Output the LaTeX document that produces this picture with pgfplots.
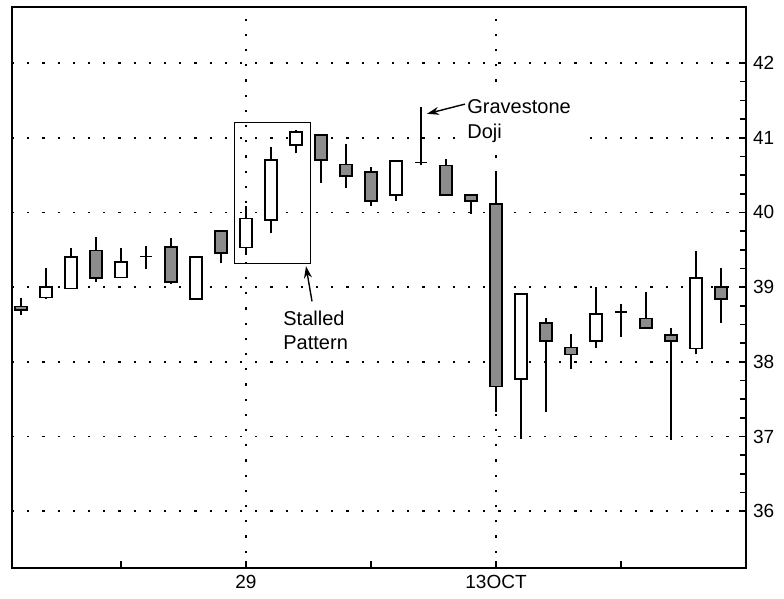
\documentclass[border=0pt]{standalone}
\usepackage{fontspec}
\setmainfont{Liberation Sans}
\usepackage{pgfplots}
\usepackage{pgfplotstable}
\pgfplotsset{compat=1.18}
\usetikzlibrary{arrows.meta}

% wicks: day, low, high
\pgfplotstableread{
x  lo     hi
0  38.63  38.85
1  38.84  39.26
2  38.98  39.53
3  39.07  39.67
4  39.13  39.53
5  39.24  39.55
6  39.04  39.66
7  38.84  39.40
8  39.32  39.75
9  39.43  40.08
10 39.72  40.88
11 40.79  41.10
12 40.40  41.04
13 40.33  40.92
14 40.09  40.61
15 40.15  40.69
16 40.63  41.41
17 40.23  40.72
18 39.98  40.23
19 37.33  40.54
20 36.97  38.91
21 37.33  38.58
22 37.90  38.37
23 38.18  39.00
24 38.33  38.78
25 38.45  38.93
26 36.95  38.45
27 38.10  39.48
28 38.52  39.26
}\wicks

\pgfplotsset{
  candlehollow/.style={black, line width=0.8pt, fill=white, mark=none, forget plot},
  candleshaded/.style={black, line width=0.8pt, fill=black!45, mark=none, forget plot},
}

\begin{document}
\begin{tikzpicture}
\begin{axis}[
  name=ax,
  scale only axis,
  width=367pt, height=280.5pt,
  xmin=-0.36, xmax=29.0,
  ymin=35.24, ymax=42.75,
  axis line style={line width=0.9pt},
  ytick={36,37,38,39,40,41,42},
  minor y tick num=3,
  ytick pos=right, yticklabel pos=right,
  xtick={4,14,24}, xticklabels={},
  xtick pos=bottom,
  extra x ticks={9,19},
  extra x tick labels={29,13OCT},
  extra x tick style={xmajorgrids=true},
  ymajorgrids=true,
  tick align=inside,
  major tick length=3.5pt, minor tick length=3pt,
  every tick/.style={black, line width=0.8pt},
  major grid style={black, line width=0.9pt, dash pattern=on 1.1pt off 6.5pt},
  /pgf/number format/assume math mode=true,
  tick label style={font=\fontsize{9.5}{11}\selectfont},
  clip=false,
]
% wicks (low to high)
\addplot[draw=none, mark=none, forget plot,
  error bars/.cd, y dir=plus, y explicit, error mark=none,
  error bar style={black, line width=0.8pt}]
  table[x=x, y=lo, y error expr=\thisrow{hi}-\thisrow{lo}] {\wicks};
% bodies (open/close)
\addplot[candleshaded] coordinates {(-0.24,38.69) (0.24,38.69) (0.24,38.74) (-0.24,38.74)} --cycle;
\addplot[candlehollow] coordinates {(0.76,38.86) (1.24,38.86) (1.24,39.00) (0.76,39.00)} --cycle;
\addplot[candlehollow] coordinates {(1.76,38.98) (2.24,38.98) (2.24,39.40) (1.76,39.40)} --cycle;
\addplot[candleshaded] coordinates {(2.76,39.12) (3.24,39.12) (3.24,39.49) (2.76,39.49)} --cycle;
\addplot[candlehollow] coordinates {(3.76,39.13) (4.24,39.13) (4.24,39.34) (3.76,39.34)} --cycle;
\addplot[candlehollow] coordinates {(4.76,39.41) (5.24,39.41)};
\addplot[candleshaded] coordinates {(5.76,39.07) (6.24,39.07) (6.24,39.54) (5.76,39.54)} --cycle;
\addplot[candlehollow] coordinates {(6.76,38.84) (7.24,38.84) (7.24,39.40) (6.76,39.40)} --cycle;
\addplot[candleshaded] coordinates {(7.76,39.46) (8.24,39.46) (8.24,39.75) (7.76,39.75)} --cycle;
\addplot[candlehollow] coordinates {(8.76,39.53) (9.24,39.53) (9.24,39.92) (8.76,39.92)} --cycle;
\addplot[candlehollow] coordinates {(9.76,39.90) (10.24,39.90) (10.24,40.70) (9.76,40.70)} --cycle;
\addplot[candlehollow] coordinates {(10.76,40.90) (11.24,40.90) (11.24,41.08) (10.76,41.08)} --cycle;
\addplot[candleshaded] coordinates {(11.76,40.70) (12.24,40.70) (12.24,41.04) (11.76,41.04)} --cycle;
\addplot[candleshaded] coordinates {(12.76,40.49) (13.24,40.49) (13.24,40.64) (12.76,40.64)} --cycle;
\addplot[candleshaded] coordinates {(13.76,40.15) (14.24,40.15) (14.24,40.54) (13.76,40.54)} --cycle;
\addplot[candlehollow] coordinates {(14.76,40.23) (15.24,40.23) (15.24,40.69) (14.76,40.69)} --cycle;
\addplot[candlehollow] coordinates {(15.76,40.67) (16.24,40.67)};
\addplot[candleshaded] coordinates {(16.76,40.23) (17.24,40.23) (17.24,40.63) (16.76,40.63)} --cycle;
\addplot[candleshaded] coordinates {(17.76,40.15) (18.24,40.15) (18.24,40.23) (17.76,40.23)} --cycle;
\addplot[candleshaded] coordinates {(18.76,37.67) (19.24,37.67) (19.24,40.11) (18.76,40.11)} --cycle;
\addplot[candlehollow] coordinates {(19.76,37.77) (20.24,37.77) (20.24,38.91) (19.76,38.91)} --cycle;
\addplot[candleshaded] coordinates {(20.76,38.28) (21.24,38.28) (21.24,38.52) (20.76,38.52)} --cycle;
\addplot[candleshaded] coordinates {(21.76,38.10) (22.24,38.10) (22.24,38.19) (21.76,38.19)} --cycle;
\addplot[candlehollow] coordinates {(22.76,38.28) (23.24,38.28) (23.24,38.64) (22.76,38.64)} --cycle;
\addplot[candlehollow] coordinates {(23.76,38.67) (24.24,38.67)};
\addplot[candleshaded] coordinates {(24.76,38.45) (25.24,38.45) (25.24,38.58) (24.76,38.58)} --cycle;
\addplot[candleshaded] coordinates {(25.76,38.28) (26.24,38.28) (26.24,38.36) (25.76,38.36)} --cycle;
\addplot[candlehollow] coordinates {(26.76,38.18) (27.24,38.18) (27.24,39.12) (26.76,39.12)} --cycle;
\addplot[candleshaded] coordinates {(27.76,38.84) (28.24,38.84) (28.24,39.00) (27.76,39.00)} --cycle;
% Stalled pattern annotation
\draw[black, line width=0.5pt] (axis cs:8.52,39.32) rectangle (axis cs:11.56,41.2);
\draw[black, line width=0.7pt, -{Stealth[length=6pt,width=4pt]}] (axis cs:11.64,38.81) -- (axis cs:11.40,39.28);
\node[anchor=north west, inner sep=0pt, align=left,
  font=\fontsize{10}{12}\selectfont] at (axis cs:10.48,38.68) {Stalled\\Pattern};
% Gravestone doji annotation
\node[anchor=north west, inner sep=3pt, fill=white, text width=58pt, align=left,
  font=\fontsize{10}{12.5}\selectfont] at (axis cs:17.6,41.6) {Gravestone\\Doji};
\draw[black, line width=0.7pt, -{Stealth[length=6pt,width=4pt]}] (axis cs:17.76,41.45) -- (axis cs:16.24,41.32);
\end{axis}
\pgfresetboundingbox
\path[use as bounding box] ([shift={(-6pt,-15.5pt)}]ax.south west) rectangle ([shift={(19pt,3.5pt)}]ax.north east);
\end{tikzpicture}
\end{document}
